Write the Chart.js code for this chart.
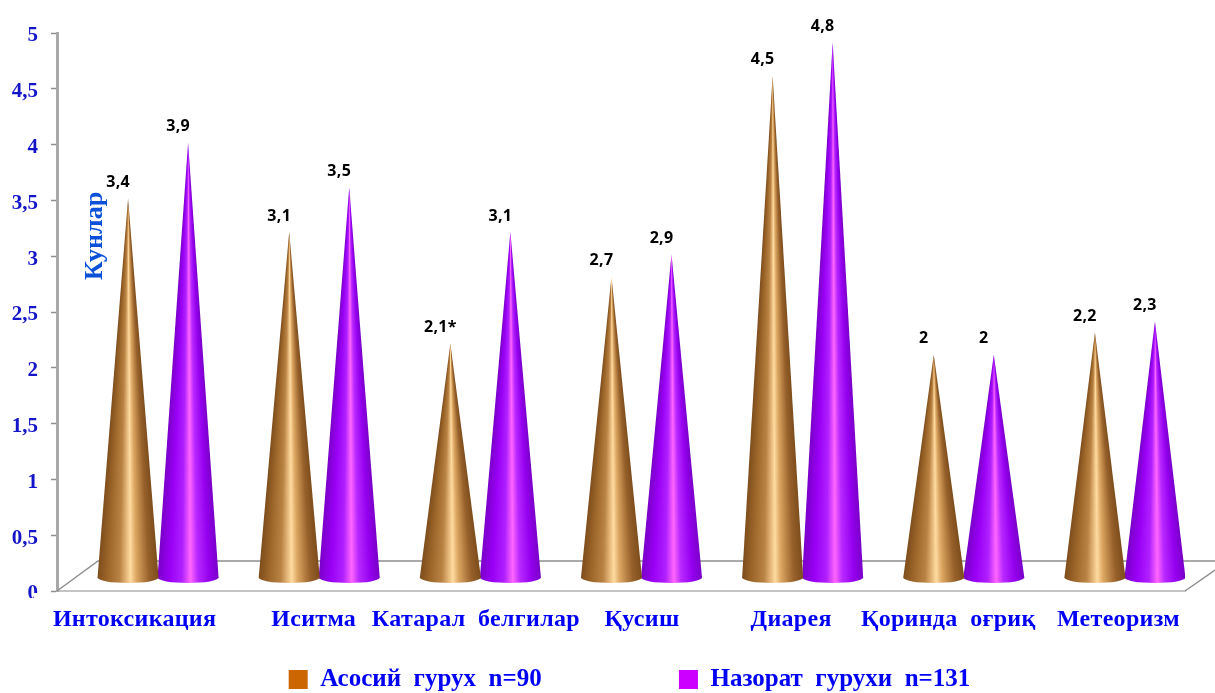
<!DOCTYPE html>
<html>
<head>
<meta charset="utf-8">
<style>
  html, body { margin: 0; padding: 0; background: #fff; }
  canvas { display: block; }
</style>
<script src="https://cdn.jsdelivr.net/npm/chart.js@4/dist/chart.umd.js"></script>
</head>
<body>
<canvas id="myChart" width="1215" height="693"></canvas>
<script>
const categories = ["Интоксикация", "Иситма", "Катарал  белгилар", "Қусиш", "Диарея", "Қоринда  оғриқ", "Метеоризм"];
const labelShift = [-3, 15, 16, 21, 9, 5, 14];
const mainGroup = [3.4, 3.1, 2.1, 2.7, 4.5, 2, 2.2];
const controlGroup = [3.9, 3.5, 3.1, 2.9, 4.8, 2, 2.3];
const mainNotes = ["", "", "*", "", "", "", ""];
const yTicks = [0, 0.5, 1, 1.5, 2, 2.5, 3, 3.5, 4, 4.5, 5];

// the fake 3d floor: cones stand this far back from the front edge
const depthX = 20.5;
const depthY = 13;

const comma = (v) => String(v).replace(".", ",");

const brownStops = [
    [0, "#7d4d1c"], [0.15, "#9a6428"], [0.36, "#b98344"], [0.46, "#e2b375"], [0.54, "#ffdba0"],
    [0.64, "#dba561"], [0.85, "#96602a"], [1, "#7d4d1c"]
];
const purpleStops = [
    [0, "#7a00c8"], [0.2, "#9900f5"], [0.4, "#b020ff"], [0.54, "#ff66ff"],
    [0.66, "#b828ff"], [0.85, "#9400ee"], [1, "#7a00c8"]
];

// bar controller whose elements are painted as cones, shaded around the tip
class ConeController extends Chart.BarController {
    draw() {
        let ctx = this.chart.ctx;
        let stops = this.getDataset().shade;
        this._cachedMeta.data.forEach((bar) => {
            let x = bar.x + depthX;
            let tip = bar.y - depthY;
            let base = bar.base - depthY;
            let r = bar.width / 2 + 0.5;
            let a = Math.atan2(r, base - tip);
            let g = ctx.createConicGradient(0, x, tip);
            stops.forEach((s) => {
                // t runs left to right, the angle runs right to left
                let angle = Math.PI / 2 + a - 2 * a * s[0];
                g.addColorStop(angle / (2 * Math.PI), s[1]);
            });
            ctx.save();
            ctx.beginPath();
            ctx.moveTo(x, tip);
            ctx.lineTo(x + r, base);
            ctx.ellipse(x, base, r, 5.5, 0, 0, Math.PI);
            ctx.closePath();
            ctx.fillStyle = g;
            ctx.fill();
            ctx.restore();
        });
    }
}
ConeController.id = "cone";
ConeController.defaults = Chart.BarController.defaults;
ConeController.overrides = Chart.BarController.overrides;
Chart.register(ConeController);

const floorPlugin = {
    id: "floor",
    beforeDatasetsDraw(chart) {
        let ctx = chart.ctx;
        let a = chart.chartArea;
        ctx.save();
        ctx.strokeStyle = "#8f8f8f";
        ctx.lineWidth = 1.5;
        ctx.beginPath();
        ctx.moveTo(a.left, a.bottom);
        ctx.lineTo(a.left + 41, a.bottom - 30);
        ctx.lineTo(1215, a.bottom - 30);
        ctx.moveTo(a.right, a.bottom);
        ctx.lineTo(1215, a.bottom - 21);
        ctx.stroke();
        ctx.restore();
    }
};

const textPlugin = {
    id: "texts",
    afterLayout(chart) {
        // the legend row sits low and right of the canvas centre
        chart.legend.left += 37;
        chart.legend.right += 37;
        chart.legend.top += 9;
        chart.legend.bottom += 9;
    },
    afterDatasetsDraw(chart) {
        let ctx = chart.ctx;
        let x = chart.scales.x;
        ctx.save();

        // value labels above the tips
        ctx.font = "bold 16px 'Noto Sans'";
        ctx.letterSpacing = "0.3px";
        ctx.fillStyle = "#000";
        ctx.textAlign = "center";
        ctx.textBaseline = "middle";
        chart.data.datasets.forEach((ds, i) => {
            chart.getDatasetMeta(i).data.forEach((bar, j) => {
                let note = ds.notes ? ds.notes[j] : "";
                ctx.fillText(comma(ds.data[j]) + note, bar.x + depthX - 10, bar.y - depthY - 16);
            });
        });

        // covers most of the zero tick label
        ctx.fillStyle = "#fff";
        ctx.fillRect(0, 598, 50, 12);
        ctx.fillRect(34, 593, 16, 6);

        // category names, hand placed under their groups
        ctx.font = "bold 24px 'Liberation Serif'";
        ctx.letterSpacing = "0.3px";
        ctx.fillStyle = "#0000f5";
        categories.forEach((c, i) => {
            ctx.fillText(c, x.getPixelForValue(i) + labelShift[i], 620);
        });
        ctx.letterSpacing = "0px";

        // rotated axis name next to the first cone
        ctx.translate(95, 236);
        ctx.rotate(-Math.PI / 2);
        ctx.font = "bold 26px 'Liberation Serif'";
        ctx.fillStyle = "#0a50d8";
        ctx.fillText("Кунлар", 0, 0);
        ctx.restore();
    }
};

new Chart(document.getElementById("myChart"), {
    type: "cone",
    data: {
        labels: categories,
        datasets: [
            { label: "Асосий  гурух  n=90", data: mainGroup, notes: mainNotes, backgroundColor: "#cc6600", shade: brownStops },
            { label: "Назорат  гурухи  n=131", data: controlGroup, backgroundColor: "#cc00ff", shade: purpleStops }
        ]
    },
    options: {
        responsive: false,
        animation: false,
        layout: { padding: { top: 33, right: 30 } },
        datasets: { cone: { categoryPercentage: 0.745, barPercentage: 1 } },
        plugins: {
            tooltip: { enabled: false },
            legend: {
                position: "bottom",
                labels: {
                    boxWidth: 19,
                    boxHeight: 19,
                    padding: 6,
                    color: "#0000f5",
                    font: { family: "'Liberation Serif'", size: 25, weight: "bold" },
                    // trailing no-break spaces open the wide gap between the two entries
                    generateLabels(chart) {
                        let items = Chart.defaults.plugins.legend.labels.generateLabels(chart);
                        items[0].text += "\u00a0".repeat(21);
                        return items;
                    }
                }
            }
        },
        scales: {
            x: {
                type: "category",
                offset: true,
                ticks: { display: false },
                grid: { display: false },
                border: { color: "#c4c4c4", width: 2 },
                afterFit(s) { s.height = 61; }
            },
            y: {
                type: "linear",
                min: 0,
                max: 5,
                afterBuildTicks(s) { s.ticks = yTicks.map((v) => ({ value: v })); },
                afterFit(s) { s.width = 57; },
                ticks: {
                    padding: 13,
                    labelOffset: 3,
                    color: "#1414c8",
                    font: { family: "'Liberation Serif'", size: 21, weight: "bold" },
                    callback: (v) => comma(v)
                },
                grid: { drawOnChartArea: false, tickLength: 6, tickColor: "#8f8f8f", tickWidth: 1.5 },
                border: { color: "#a8a8a8", width: 3 }
            }
        }
    },
    plugins: [floorPlugin, textPlugin]
});
</script>
</body>
</html>
